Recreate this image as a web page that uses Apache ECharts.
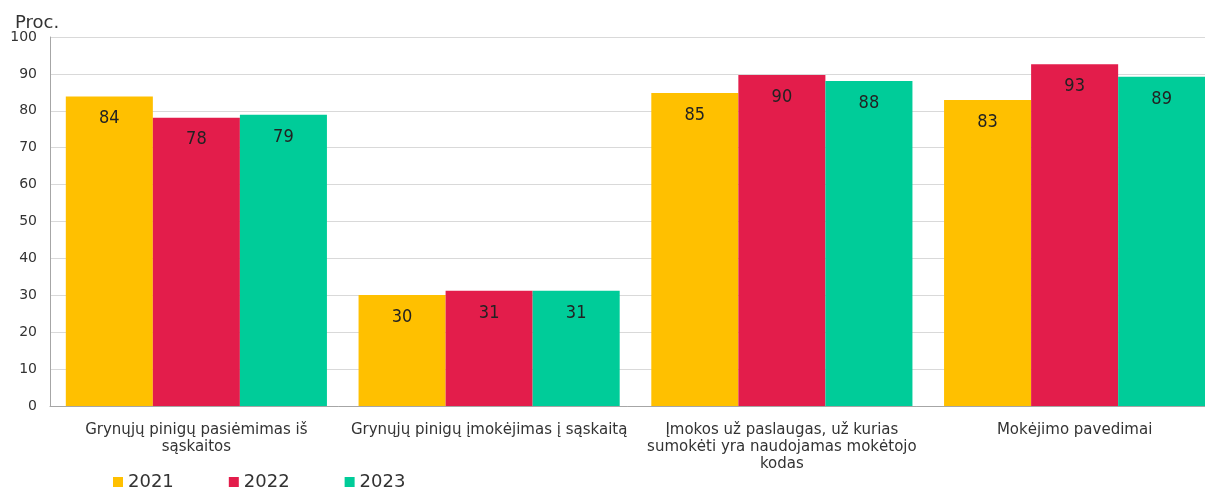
<!DOCTYPE html>
<html>
<head>
<meta charset="utf-8" />
<title></title>
<script src="https://cdn.jsdelivr.net/npm/echarts@6/dist/echarts.min.js"></script>
<style>
	* { margin: 0; padding: 0; }
	html, body { width: 100%; height: 100%; background: #fff; overflow: hidden; }
	#main { width: 1205px; height: 496px; }
</style>
</head>
<body>
<div id="main"></div>
<script>
	var categories = [
		'Grynųjų pinigų pasiėmimas iš\nsąskaitos',
		'Grynųjų pinigų įmokėjimas į sąskaitą',
		'Įmokos už paslaugas, už kurias\nsumokėti yra naudojamas mokėtojo\nkodas',
		'Mokėjimo pavedimai'
	];
	var years = ['2021', '2022', '2023'];
	var v2021 = [83.9, 30.1, 84.8, 82.9];
	var v2022 = [78.1, 31.2, 89.7, 92.6];
	var v2023 = [78.9, 31.2, 88.1, 89.2];
	var colors = ['#FFC000', '#E31D4B', '#00CC99'];

	var axisFont = 'Verdana, "DejaVu Sans", sans-serif';

	function bar(name, data) {
		return {
			name: name,
			type: 'bar',
			data: data,
			barGap: '0%',
			barCategoryGap: '10.8%',
			label: {
				show: true,
				position: 'insideTop',
				distance: 13,
				color: '#222',
				fontSize: 18,
				fontFamily: '"Liberation Sans Narrow", "Arial Narrow", "DejaVu Sans Condensed", sans-serif',
				formatter: function(p) { return Math.round(p.value); }
			}
		};
	}

	var myChart = echarts.init(document.getElementById('main'));
	myChart.setOption({
		animation: false,
		color: colors,
		title: {
			text: 'Proc.',
			left: 10,
			top: 9,
			textStyle: { fontFamily: axisFont, fontSize: 18, fontWeight: 'normal', color: '#333' }
		},
		legend: {
			data: years,
			left: 108,
			bottom: 0,
			icon: 'rect',
			itemWidth: 10,
			itemHeight: 10,
			itemGap: 55,
			textStyle: { fontFamily: axisFont, fontSize: 18, color: '#333' }
		},
		// the plot runs past the right edge of the picture
		grid: { left: 50, width: 1171, top: 37, bottom: 90, outerBoundsMode: 'none' },
		xAxis: {
			type: 'category',
			data: categories,
			axisLine: { lineStyle: { color: '#a6a6a6', width: 1 } },
			axisTick: { show: false },
			axisLabel: {
				interval: 0,
				margin: 16,
				fontFamily: axisFont,
				fontSize: 15,
				lineHeight: 17,
				color: '#333'
			}
		},
		yAxis: {
			type: 'value',
			min: 0,
			max: 100,
			interval: 10,
			axisLine: { show: true, lineStyle: { color: '#a6a6a6', width: 1 } },
			axisTick: { show: false },
			splitLine: { lineStyle: { color: '#d9d9d9' } },
			axisLabel: { fontFamily: axisFont, fontSize: 14, color: '#333', margin: 13 }
		},
		series: [bar(years[0], v2021), bar(years[1], v2022), bar(years[2], v2023)]
	});
</script>
</body>
</html>
